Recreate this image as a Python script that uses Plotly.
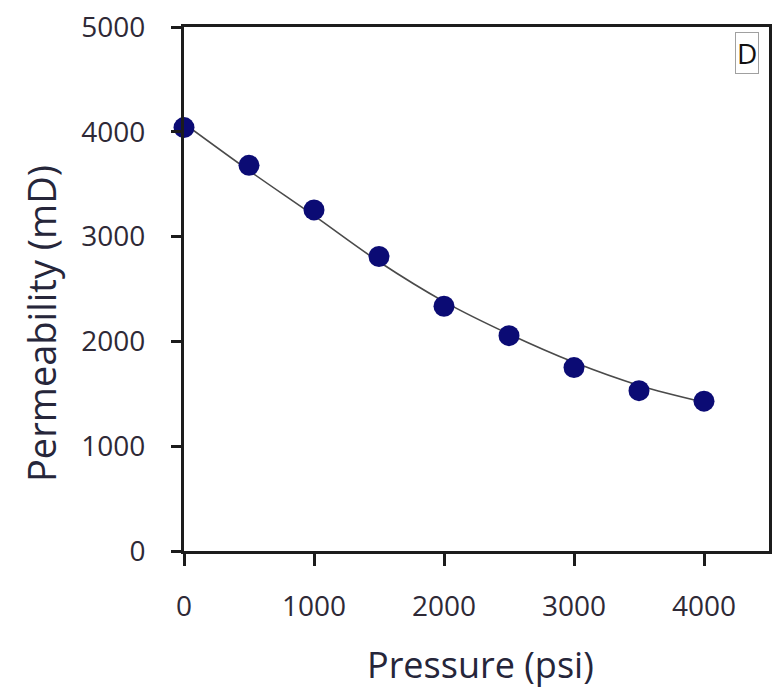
import plotly.graph_objects as go

pressure = [0, 500, 1000, 1500, 2000, 2500, 3000, 3500, 4000]
permeability = [4040, 3680, 3255, 2810, 2335, 2055, 1750, 1530, 1430]

# Trend line
fit_pressure = [0, 500, 1000, 1500, 2000, 2500, 3000, 3500, 4000]
fit_permeability = [4080, 3630, 3200, 2760, 2380, 2070, 1800, 1580, 1420]

x_ticks = [0, 1000, 2000, 3000, 4000]
y_ticks = [0, 1000, 2000, 3000, 4000, 5000]

FONT = "Open Sans"
TICK_COLOR = "#2e2936"
AXIS_COLOR = "#1c1c1c"
TITLE_COLOR = "#26263a"

fig = go.Figure()
fig.add_trace(go.Scatter(
    x=fit_pressure, y=fit_permeability, mode="lines",
    line=dict(color="#4a4a4a", width=1.6, shape="spline"),
    showlegend=False, hoverinfo="skip"))
fig.add_trace(go.Scatter(
    x=pressure, y=permeability, mode="markers",
    marker=dict(color="#0b0b74", size=21, line=dict(width=0)),
    showlegend=False, cliponaxis=False))

fig.update_layout(
    width=779, height=694,
    margin=dict(l=184, r=7, t=25, b=143),
    paper_bgcolor="white", plot_bgcolor="white",
    font=dict(family=FONT, color=TICK_COLOR),
    xaxis=dict(range=[0, 4500], tickvals=x_ticks, ticktext=[str(v) for v in x_ticks],
               showgrid=False, zeroline=False, showline=True, linewidth=3,
               linecolor=AXIS_COLOR, mirror=True, ticks="outside", ticklen=12,
               tickwidth=2.5, tickcolor=AXIS_COLOR,
               tickfont=dict(family=FONT, size=28, color=TICK_COLOR),
               ticklabelstandoff=16),
    yaxis=dict(range=[0, 5000], tickvals=y_ticks, ticktext=[str(v) for v in y_ticks],
               showgrid=False, zeroline=False, showline=True, linewidth=3,
               linecolor=AXIS_COLOR, mirror=True, ticks="outside", ticklen=10,
               tickwidth=2.5, tickcolor=AXIS_COLOR,
               tickfont=dict(family=FONT, size=28, color=TICK_COLOR),
               ticklabelstandoff=20),
    annotations=[
        dict(text="Pressure (psi)", xref="paper", yref="paper", x=0.506, y=-0.217,
             showarrow=False, xanchor="center", yanchor="middle",
             font=dict(family=FONT, size=36, color=TITLE_COLOR)),
        dict(text="Permeability (mD)", xref="paper", yref="paper", x=-0.2445, y=0.435,
             showarrow=False, textangle=-90, xanchor="center", yanchor="middle",
             font=dict(family=FONT, size=38, color=TITLE_COLOR)),
        dict(text="D", xref="paper", yref="paper", x=0.963, y=0.95,
             showarrow=False, xanchor="center", yanchor="middle",
             bordercolor="#a0a0a0", borderwidth=1, borderpad=1,
             font=dict(family=FONT, size=28, color="#111111")),
    ],
)

fig.write_html("out.html")
